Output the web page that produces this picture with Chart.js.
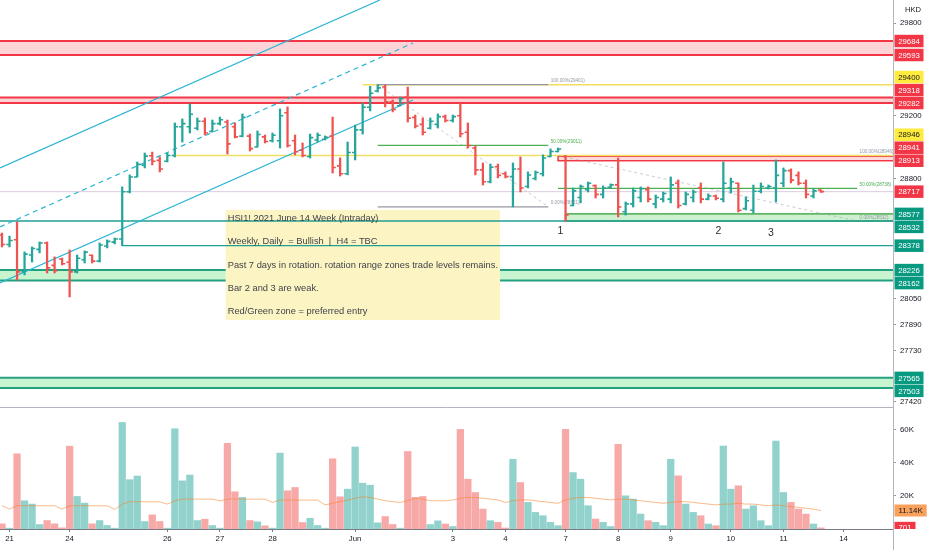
<!DOCTYPE html>
<html>
<head>
<meta charset="utf-8">
<title>HSI1! 2021 June 14 Week</title>
<script src="https://cdn.jsdelivr.net/npm/chart.js@4.4.1/dist/chart.umd.min.js"></script>
<style>
  html, body { margin:0; padding:0; background:#ffffff; }
  #stage { position:relative; width:932px; height:550px; overflow:hidden; background:#fff; }
  canvas { position:absolute; left:0; display:block; }
  #price { top:0; }
  #vol { top:407px; }
</style>
</head>
<body>
<div id="stage">
  <canvas id="price" width="932" height="407"></canvas>
  <canvas id="vol" width="932" height="143"></canvas>
</div>
<script>
// ---------------- DATA ----------------
const opens  = [28445,28385,28415,28215,28320,28355,28395,28255,28295,28275,28215,28290,28318,28282,28376,28400,28420,28716,28810,28885,
                28945,28915,28910,28946,29130,29130,29120,29165,29100,29150,29160,29130,29070,29070,29000,29065,29040,29040,29220,29040,
                28980,28940,29045,29050,29070,28880,28830,28965,29110,29255,29360,29385,29290,29265,29320,29190,29145,29120,29145,29195,
                29170,29200,29095,28994,28855,28780,28875,28830,28812,28860,28750,28800,28830,28940,28972,28940,28630,28680,28730,28755,
                28700,28745,28760,28590,28640,28680,28730,28640,28670,28670,28770,28640,28680,28740,28670,28690,28670,28740,28770,28610,
                28600,28720,28740,28740,28770,28850,28820,28770,28690,28727];
const highs  = [28457,28438,28526,28339,28370,28401,28401,28308,28301,28351,28320,28345,28320,28395,28414,28426,28747,28823,28905,28962,
                28968,28937,28962,29154,29180,29276,29186,29186,29173,29192,29173,29154,29212,29083,29103,29077,29090,29244,29257,29077,
                29026,29083,29090,29071,29192,28931,29032,29141,29282,29390,29401,29398,29302,29321,29385,29205,29186,29186,29212,29205,
                29205,29282,29154,29007,28899,28892,28892,28842,28899,28937,28842,28848,28950,28988,28994,28946,28740,28759,28778,28759,
                28753,28766,28930,28652,28740,28747,28747,28696,28715,28810,28791,28715,28728,28772,28703,28696,28905,28803,28772,28684,
                28759,28772,28759,28918,28867,28861,28842,28791,28734,28728];
const lows   = [28370,28370,28165,28196,28276,28333,28208,28208,28258,28060,28208,28270,28270,28276,28364,28389,28378,28709,28810,28867,
                28886,28842,28905,28937,29032,29090,29109,29077,29096,29141,28956,29058,29065,28975,29000,29026,29032,28994,29000,28950,
                28937,28930,29032,29045,28835,28816,28823,28918,29083,29231,29353,29257,29225,29264,29160,29122,29077,29115,29122,29160,
                29160,29064,28994,28823,28759,28772,28804,28804,28621,28715,28740,28791,28816,28937,28969,28532,28627,28646,28715,28677,
                28677,28740,28558,28570,28620,28652,28652,28614,28652,28646,28614,28633,28652,28646,28665,28665,28652,28709,28589,28602,
                28583,28709,28734,28652,28747,28772,28759,28677,28677,28712];
const closes = [28385,28410,28215,28325,28360,28395,28240,28222,28265,28215,28300,28338,28282,28382,28405,28420,28716,28810,28890,28942,
                28910,28860,28946,29130,29150,29210,29165,29090,29150,29175,29020,29065,29190,28990,29080,29035,29075,29200,29010,28970,
                28946,29060,29075,29062,28870,28830,28965,29110,29255,29345,29380,29290,29240,29310,29185,29135,29095,29165,29195,29170,
                29195,29085,29010,28855,28780,28872,28820,28812,28860,28740,28822,28838,28930,28972,28988,28570,28722,28750,28770,28700,
                28740,28760,28620,28640,28722,28735,28670,28680,28705,28760,28630,28700,28715,28670,28690,28675,28770,28780,28600,28660,
                28720,28750,28750,28820,28850,28790,28770,28700,28722,28717];
const volumes = [3100,500,45300,17000,15000,2700,5100,3100,700,49900,19600,15600,3100,5100,2100,500,64200,29700,31900,4500,
                 8500,4500,500,60400,29000,32500,5100,5900,2100,500,51600,22400,19000,5100,4300,1900,500,45700,23000,25000,
                 3900,6400,2100,500,42300,19400,24000,49400,27600,26400,3700,7500,2700,500,46700,19000,19600,2700,4900,3000,
                 1500,60000,30000,22000,12000,5000,4000,600,42000,28000,16000,10000,8000,4000,2000,60000,34000,30000,14000,6000,
                 4000,1500,51000,20000,18000,9000,5000,4000,2000,42000,32000,15000,10000,8000,3000,2000,50000,24000,26000,12000,
                 14000,5000,2000,53000,22000,16000,12000,9000,3000,701];
const volumeMA = [14000,12000,14000,14000,14000,14000,14000,14000,12000,14000,14000,14000,14000,14000,14000,11800,15000,16400,16400,16400,
                  16400,16400,15000,17000,18000,18000,18000,18000,18000,17000,18000,18000,18000,18000,18000,18000,16000,17400,17400,17400,
                  17400,17400,17400,14500,15500,16500,17400,18500,19400,19000,18000,17000,16500,16000,17000,18600,18000,17000,17000,17000,
                  17500,18500,19000,19000,18500,18000,17500,16000,17000,17500,17500,17000,16500,16000,15500,17500,18500,19000,19000,18500,
                  18000,17500,18000,18000,17500,17000,16500,16000,15500,16000,16500,16500,16000,15500,15000,14500,15000,15000,15500,15000,
                  15000,14500,14000,14500,14000,13500,13000,12500,12000,11140];
const dayTickIndex  = [1,9,22,29,36,47,60,67,75,82,89,97,104,112];
const dayTickLabels = ['21','24','26','27','28','Jun','3','4','7','8','9','10','11','14'];
const priceTicks  = [29800,29200,28800,28050,27890,27730,27420];
const volumeTicks = [20000,40000,60000];
const resistanceLevels = [29684,29593,29400,29318,29282,28946,28941,28913];
const resistanceKinds  = ['red','red','yellow','red','red','yellow','red','red'];
const supportLevels    = [28577,28532,28378,28226,28162,27565,27503];
const noteLines = [
  'HSI1! 2021 June 14 Week (Intraday)',
  'Weekly, Daily  = Bullish  |  H4 = TBC',
  'Past 7 days in rotation. rotation range zones trade levels remains.',
  'Bar 2 and 3 are weak.',
  'Red/Green zone = preferred entry'
];
const fibTexts = [
  ['100.00%(29401)','50.00%(29011)','0.00%(28621)'],
  ['100.00%(28946)','50.00%(28738)','0.00%(28532)']
];
const fibLevels = [[29401,29011,28621],[28946,28738,28532]];
const markTexts = ['1','2','3'];

// ---------------- DRAWING GEOMETRY (data space) ----------------
const X_MIN = -0.266, X_MAX = 118.58;
const Y_MIN = 27389, Y_MAX = 29953;
const V_MAX = 73500;
const zones = [
  {top:29684, bottom:29593, from:X_MIN, kind:'red'},
  {top:29318, bottom:29282, from:X_MIN, kind:'red'},
  {top:28941, bottom:28913, from:74,    kind:'redbox'},
  {top:28577, bottom:28532, from:75,    kind:'greenbox'},
  {top:28226, bottom:28162, from:X_MIN, kind:'green'},
  {top:27565, bottom:27503, from:X_MIN, kind:'green'}
];
const hLines = [
  {price:29400, from:48,    color:'#f2de62', width:1.5},
  {price:28946, from:23,    color:'#f2de62', width:1.5},
  {price:28532, from:X_MIN, color:'#1f9e93', width:1.4},
  {price:28378, from:16,    color:'#1f9e93', width:1.4}
];
const fibSpans = [{from:50, to:72.7, lines:[true,true,true]}, {from:74, to:113.8, lines:[false,true,false]}];
const channelLines = [
  {from:[-0.27,28867], to:[50.3,29953], dash:[]},
  {from:[-0.27,28495], to:[54.7,29671], dash:[5,4]},
  {from:[-0.27,28146], to:[54.7,29302], dash:[]}
];
const noteBox = {from:29.77, to:66.28, top:28602, bottom:27918};
const markPos = [{x:74.33, p:28470}, {x:95.33, p:28468}, {x:102.34, p:28457}];

// ---------------- STYLES ----------------
const FONT = "'Liberation Sans', Arial, sans-serif";
Chart.defaults.font.family = FONT;
Chart.defaults.color = '#131722';
const UP = '#26a69a', DOWN = '#ef5350';
const VOL_UP = 'rgba(38,166,154,0.5)', VOL_DOWN = 'rgba(239,83,80,0.5)';
const CYAN = '#2ab4d4';
const zoneStyles = {
  red:      {fill:'rgba(242,54,69,0.22)', stroke:'#f23645', width:2},
  green:    {fill:'rgba(76,220,100,0.3)', stroke:'#23a07f', width:2},
  redbox:   {fill:'rgba(242,54,69,0.16)', stroke:'#f23645', width:1.5, box:true},
  greenbox: {fill:'rgba(76,200,90,0.28)', stroke:'#4caf50', width:1.5, box:true}
};
const fibColors = ['#9598a1','#4caf50','#9598a1'];
const labelColors = {red:['#f23645','#ffffff'], yellow:['#ffeb3b','#131722'], green:['#089981','#ffffff']};

const N = opens.length;
const idx = Array.from({length:N}, (_, i) => i);
const up = idx.map(i => closes[i] >= opens[i]);

// ---------------- PRICE PANE ----------------
const priceAnnot = {
  id:'priceAnnot',
  beforeDatasetsDraw(chart) {
    const {ctx, chartArea:a, scales:{x, y}} = chart;
    const X = v => x.getPixelForValue(v), Y = v => y.getPixelForValue(v);
    const hl = (x0, x1, yy, color, w, dash) => {
      ctx.beginPath(); ctx.setLineDash(dash || []); ctx.strokeStyle = color; ctx.lineWidth = w;
      ctx.moveTo(x0, yy); ctx.lineTo(x1, yy); ctx.stroke(); ctx.setLineDash([]);
    };
    ctx.save();
    ctx.beginPath(); ctx.rect(a.left, a.top, a.right - a.left, a.bottom - a.top); ctx.clip();
    // last price line
    hl(a.left, a.right, Y(closes[N-1]), 'rgba(190,160,195,0.55)', 1);
    // zones
    zones.forEach(z => {
      const s = zoneStyles[z.kind];
      const x0 = X(z.from), x1 = a.right, y0 = Y(z.top), y1 = Y(z.bottom);
      ctx.fillStyle = s.fill; ctx.fillRect(x0, y0, x1 - x0, y1 - y0);
      if (s.box) { ctx.strokeStyle = s.stroke; ctx.lineWidth = s.width; ctx.strokeRect(x0, y0, x1 - x0 + 5, y1 - y0); }
      else { hl(x0, x1, y0, s.stroke, s.width); hl(x0, x1, y1, s.stroke, s.width); }
    });
    // note box
    const bx0 = X(noteBox.from), bx1 = X(noteBox.to), by0 = Y(noteBox.top), by1 = Y(noteBox.bottom);
    ctx.fillStyle = '#fcf5c3'; ctx.fillRect(bx0, by0, bx1 - bx0, by1 - by0);
    // horizontal lines
    hLines.forEach(l => hl(X(l.from), a.right, Y(l.price), l.color, l.width));
    // fib retracements
    fibSpans.forEach((f, k) => {
      const x0 = X(f.from), x1 = X(f.to), lv = fibLevels[k];
      lv.forEach((p, j) => { if (f.lines[j]) hl(x0, x1, Y(p), fibColors[j], 1.3); });
      ctx.beginPath(); ctx.setLineDash([3,3]); ctx.strokeStyle = 'rgba(150,153,165,0.5)'; ctx.lineWidth = 1;
      ctx.moveTo(x0, Y(lv[0])); ctx.lineTo(x1, Y(lv[2])); ctx.stroke(); ctx.setLineDash([]);
      ctx.font = '4.6px ' + FONT; ctx.textAlign = 'left'; ctx.textBaseline = 'bottom';
      lv.forEach((p, j) => { ctx.fillStyle = fibColors[j]; ctx.fillText(fibTexts[k][j], x1 + 2.5, Y(p) - 1.5); });
    });
    // note text
    ctx.fillStyle = '#3f424c'; ctx.font = '9.3px ' + FONT; ctx.textAlign = 'left'; ctx.textBaseline = 'middle';
    noteLines.forEach((t, k) => ctx.fillText(t, bx0 + 2, by0 + 8.7 + k * 23.25));
    // range bar marks
    ctx.fillStyle = '#2a2e39'; ctx.font = '10.5px ' + FONT; ctx.textAlign = 'center';
    markPos.forEach((m, k) => ctx.fillText(markTexts[k], X(m.x), Y(m.p)));
    ctx.restore();
  },
  afterDatasetsDraw(chart) {
    const {ctx, chartArea:a, scales:{x, y}} = chart;
    ctx.save();
    ctx.beginPath(); ctx.rect(a.left, a.top, a.right - a.left, a.bottom - a.top); ctx.clip();
    ctx.lineWidth = 1.6;
    idx.forEach(i => {
      const px = x.getPixelForValue(i), yo = y.getPixelForValue(opens[i]), yc = y.getPixelForValue(closes[i]);
      ctx.strokeStyle = up[i] ? UP : DOWN;
      ctx.beginPath();
      ctx.moveTo(px - 3.2, yo); ctx.lineTo(px, yo);
      ctx.moveTo(px, yc); ctx.lineTo(px + 3.2, yc);
      ctx.stroke();
    });
    ctx.restore();
  },
  afterDraw(chart) {
    const {ctx, chartArea:a, scales:{y}} = chart;
    const GAP = 13, H = 12.5, W = 29;
    ctx.save();
    ctx.font = '7.8px ' + FONT; ctx.textAlign = 'center'; ctx.textBaseline = 'middle';
    const box = (py, text, kind) => {
      const [bg, fg] = labelColors[kind];
      ctx.fillStyle = bg; ctx.fillRect(a.right + 1.5, py - H / 2, W, H);
      ctx.fillStyle = fg; ctx.fillText(text, a.right + 1.5 + W / 2, py + 0.5);
    };
    // resistance-side labels stack upward from the lowest one
    const res = resistanceLevels.map((v, k) => ({v, kind:resistanceKinds[k]}));
    res.push({v:closes[N-1], kind:'red'});
    res.sort((p, q) => p.v - q.v);
    let prev = Infinity;
    res.forEach(r => { const py = Math.min(y.getPixelForValue(r.v), prev - GAP); prev = py; r.py = py; });
    // support labels stack downward from the highest one
    const sup = supportLevels.map(v => ({v, kind:'green'})).sort((p, q) => q.v - p.v);
    prev = -Infinity;
    sup.forEach(r => { const py = Math.max(y.getPixelForValue(r.v), prev + GAP); prev = py; r.py = py; });
    res.concat(sup).forEach(r => box(r.py, String(r.v), r.kind));
    // currency
    ctx.fillStyle = '#131722'; ctx.font = '7.6px ' + FONT;
    ctx.fillText('HKD', a.right + 20, 10);
    ctx.restore();
  }
};

new Chart(document.getElementById('price'), {
  type:'bar',
  data:{
    datasets:[
      {type:'bar', label:'HSI1!', data:idx.map(i => ({x:i, y:[lows[i], highs[i]]})),
       backgroundColor:idx.map(i => up[i] ? UP : DOWN), barThickness:1.6, borderWidth:0, order:0},
      ...channelLines.map(l => ({type:'line', data:[{x:l.from[0], y:l.from[1]}, {x:l.to[0], y:l.to[1]}],
        borderColor:CYAN, borderWidth:1.2, borderDash:l.dash, pointRadius:0, fill:false, tension:0, order:1}))
    ]
  },
  options:{
    responsive:false, animation:false, events:[],
    layout:{padding:0},
    plugins:{legend:{display:false}, tooltip:{enabled:false}},
    scales:{
      x:{type:'linear', min:X_MIN, max:X_MAX, display:false, offset:false},
      y:{type:'logarithmic', position:'right', min:Y_MIN, max:Y_MAX,
         afterBuildTicks:s => { s.ticks = priceTicks.map(v => ({value:v})); },
         afterFit:s => { s.width = 39; s.paddingTop = 0; s.paddingBottom = 0; },
         ticks:{callback:v => String(v), autoSkip:false, font:{size:7.8}, color:'#131722', padding:4},
         grid:{drawOnChartArea:false, tickLength:3, color:'#9598a1'},
         border:{display:true, color:'#b2b5be'}}
    }
  },
  plugins:[priceAnnot]
});

// ---------------- VOLUME PANE ----------------
const fmtVol = v => v >= 1000 ? (v / 1000).toFixed(2) + 'K' : String(v);
const volAnnot = {
  id:'volAnnot',
  afterDraw(chart) {
    const {ctx, chartArea:a, scales:{y}} = chart;
    ctx.save();
    ctx.strokeStyle = '#b2b5be'; ctx.lineWidth = 1;
    ctx.beginPath(); ctx.moveTo(0, 0.5); ctx.lineTo(a.right, 0.5); ctx.stroke();
    ctx.beginPath(); ctx.moveTo(a.right + 0.5, 0); ctx.lineTo(a.right + 0.5, chart.height); ctx.stroke();
    ctx.beginPath(); ctx.rect(a.right + 1, 0, chart.width - a.right, a.bottom); ctx.clip();
    ctx.font = '7.8px ' + FONT; ctx.textAlign = 'left'; ctx.textBaseline = 'middle';
    const lab = (val, bg, fg) => {
      const t = fmtVol(val), w = ctx.measureText(t).width + 8, py = y.getPixelForValue(val);
      ctx.fillStyle = bg; ctx.fillRect(a.right + 1.5, py - 6, w, 12);
      ctx.fillStyle = fg; ctx.fillText(t, a.right + 5.5, py + 0.5);
    };
    lab(volumes[N-1], '#f23645', '#ffffff');
    lab(volumeMA[N-1], '#f9a05a', '#131722');
    ctx.restore();
  }
};

new Chart(document.getElementById('vol'), {
  type:'bar',
  data:{
    datasets:[
      {type:'bar', label:'Volume', data:idx.map(i => ({x:i, y:volumes[i]})),
       backgroundColor:idx.map(i => up[i] ? VOL_UP : VOL_DOWN), barThickness:6.6, borderWidth:0, order:1},
      {type:'line', label:'Volume MA', data:idx.map(i => ({x:i, y:volumeMA[i]})),
       borderColor:'rgba(245,130,40,0.55)', borderWidth:1, pointRadius:0, fill:false, tension:0, order:0}
    ]
  },
  options:{
    responsive:false, animation:false, events:[],
    layout:{padding:0},
    plugins:{legend:{display:false}, tooltip:{enabled:false}},
    scales:{
      x:{type:'linear', min:X_MIN, max:X_MAX, offset:false,
         afterBuildTicks:s => { s.ticks = dayTickIndex.map(v => ({value:v})); },
         afterFit:s => { s.height = 21; s.paddingLeft = 0; s.paddingRight = 0; },
         ticks:{callback:(v, k) => dayTickLabels[k], autoSkip:false, maxRotation:0, minRotation:0,
                font:{size:7.8}, color:'#131722', padding:2},
         grid:{drawOnChartArea:false, tickLength:3, color:'#787b86', offset:false},
         border:{display:true, color:'#787b86'}},
      y:{type:'linear', position:'right', min:0, max:V_MAX,
         afterBuildTicks:s => { s.ticks = volumeTicks.map(v => ({value:v})); },
         afterFit:s => { s.width = 39; s.paddingTop = 0; s.paddingBottom = 0; },
         ticks:{callback:v => (v / 1000) + 'K', autoSkip:false, font:{size:7.8}, color:'#131722', padding:4},
         grid:{drawOnChartArea:false, tickLength:3, color:'#9598a1'},
         border:{display:true, color:'#b2b5be'}}
    }
  },
  plugins:[volAnnot]
});
</script>
</body>
</html>
